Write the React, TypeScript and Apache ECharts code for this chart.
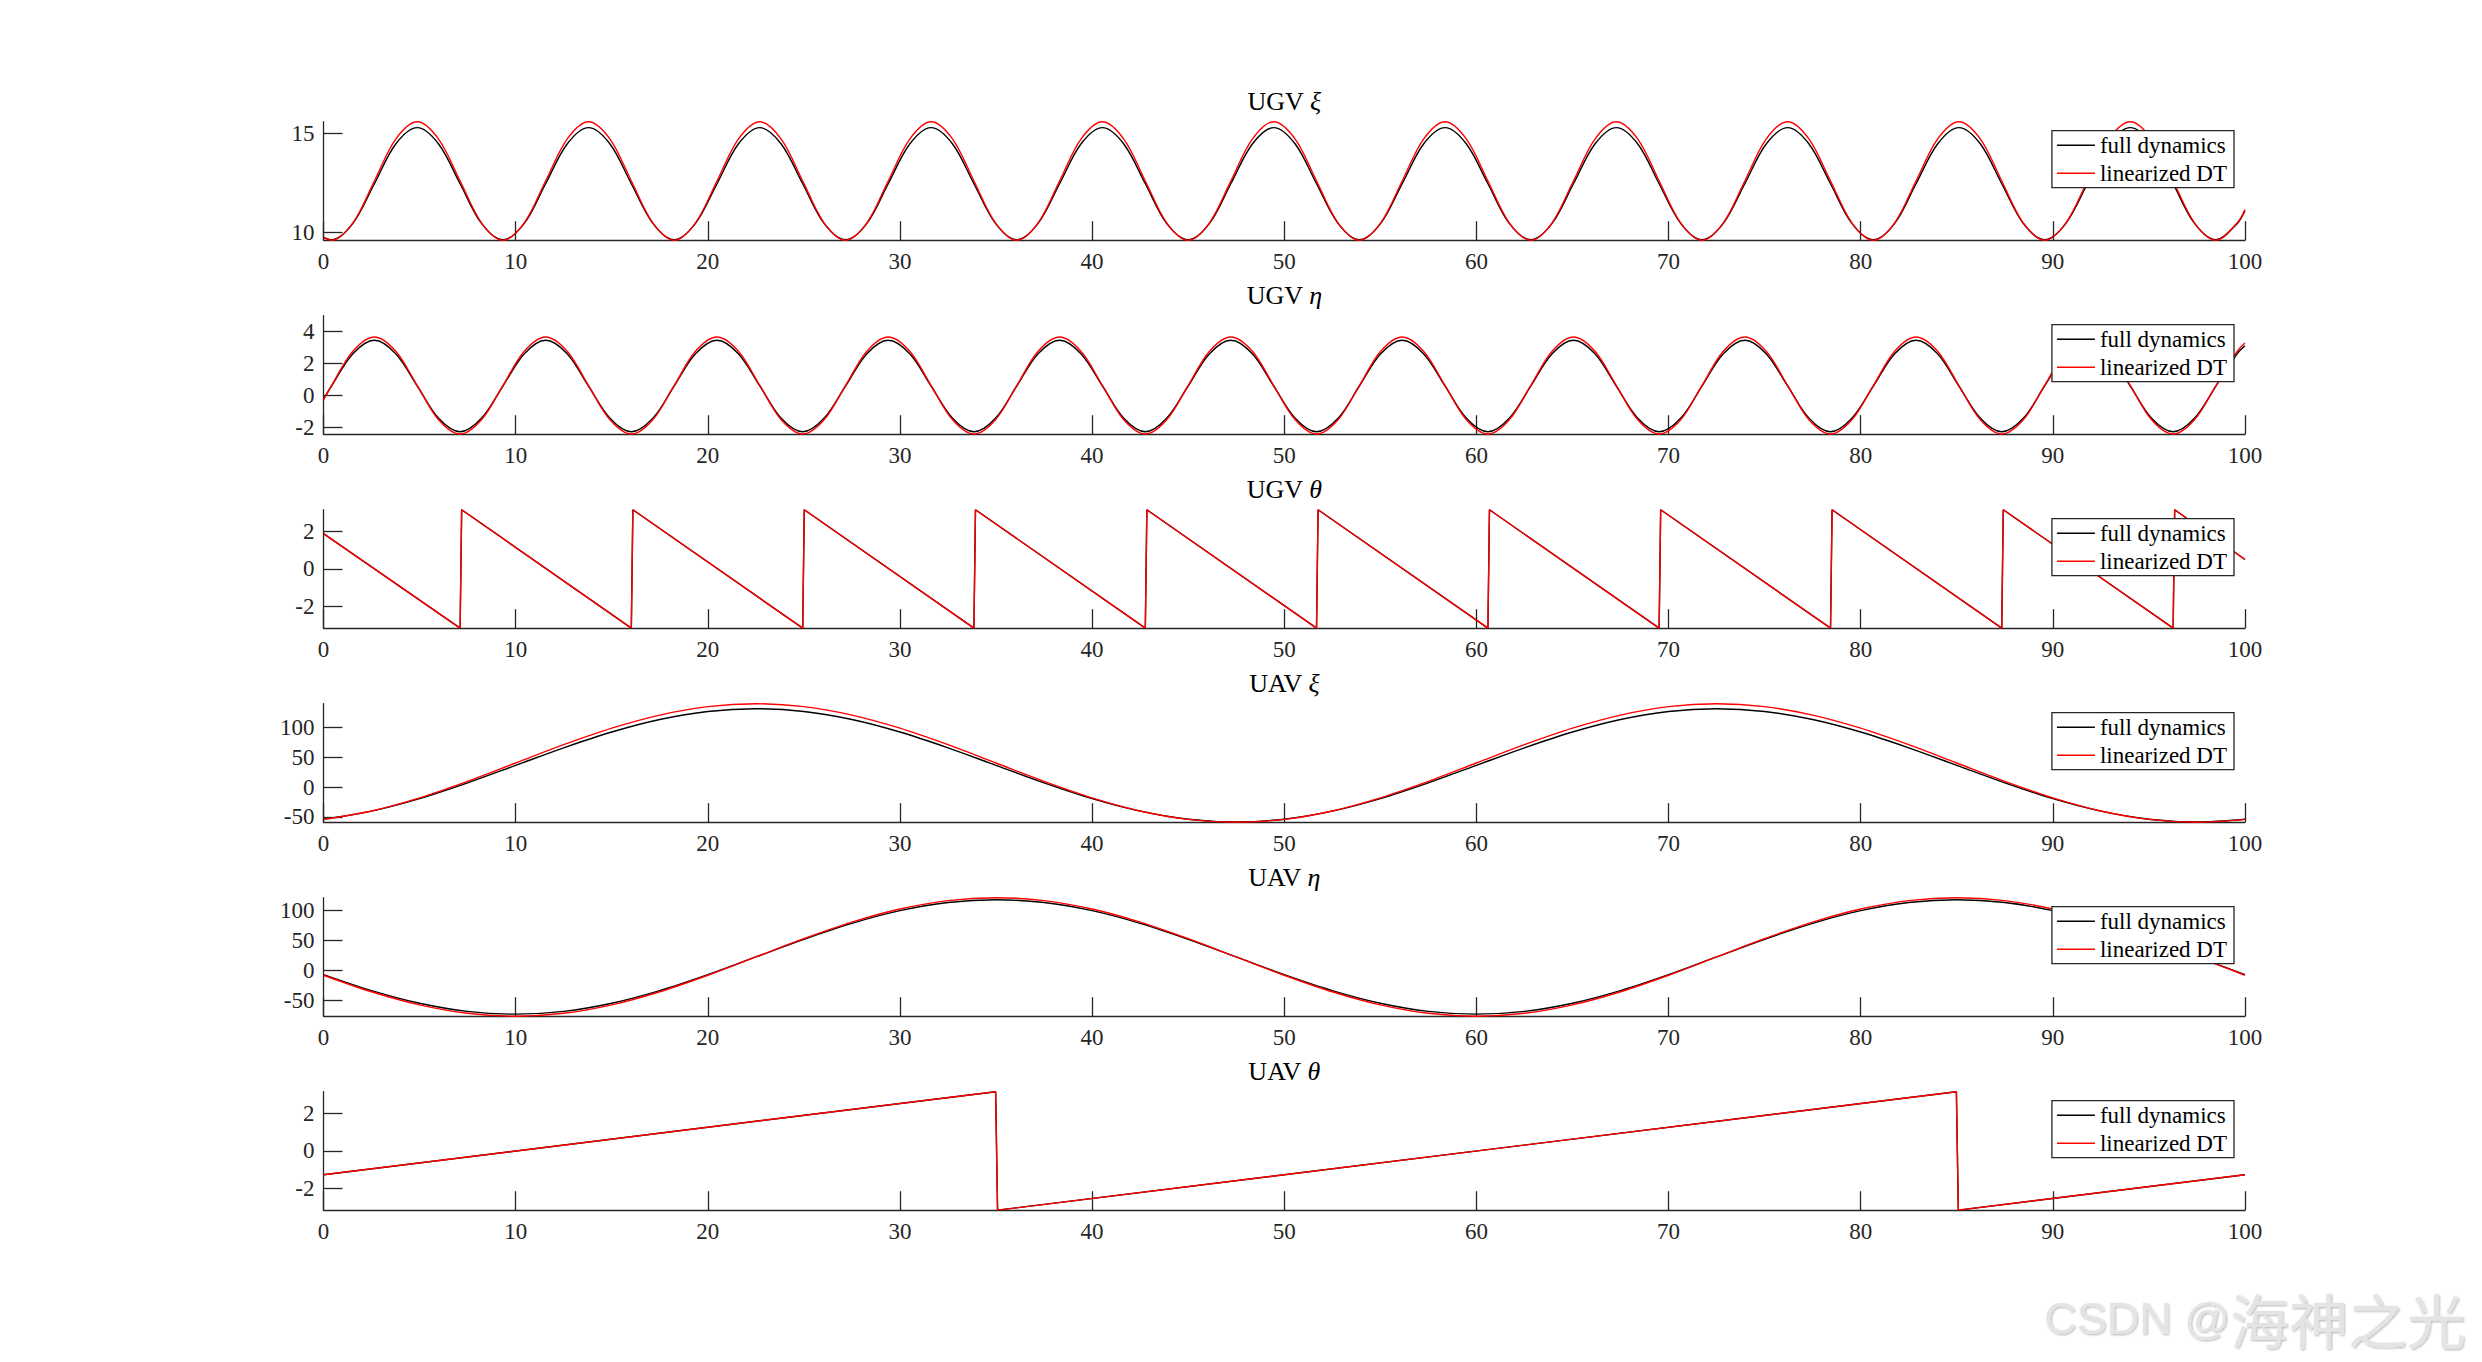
import React, { useEffect, useRef } from 'react';
import * as echarts from 'echarts';

// ---------------- data ----------------
const ugvT = [
  0, 0.42, 1.53, 2.65, 3.76, 4.88, 5.99, 7.11, 8.22,
  9.34, 10.45, 11.56, 12.68, 13.79, 14.91, 16.02, 17.14,
  18.25, 19.36, 20.48, 21.59, 22.71, 23.82, 24.94, 26.05,
  27.17, 28.28, 29.39, 30.51, 31.62, 32.74, 33.85, 34.97,
  36.08, 37.19, 38.31, 39.42, 40.54, 41.65, 42.77, 43.88,
  45.0, 46.11, 47.22, 48.34, 49.45, 50.57, 51.68, 52.8,
  53.91, 55.02, 56.14, 57.25, 58.37, 59.48, 60.6, 61.71,
  62.83, 63.94, 65.05, 66.17, 67.28, 68.4, 69.51, 70.63,
  71.74, 72.85, 73.97, 75.08, 76.2, 77.31, 78.43, 79.54,
  80.66, 81.77, 82.88, 84.0, 85.11, 86.23, 87.34, 88.46,
  89.57, 90.68, 91.8, 92.91, 94.03, 95.14, 96.26, 97.37,
  98.49, 99.6, 100,
];

const ugvXiFull = [
  9.74,
  9.62, 10.45, 12.46, 14.47, 15.3, 14.47, 12.46, 10.45,
  9.62, 10.45, 12.46, 14.47, 15.3, 14.47, 12.46, 10.45,
  9.62, 10.45, 12.46, 14.47, 15.3, 14.47, 12.46, 10.45,
  9.62, 10.45, 12.46, 14.47, 15.3, 14.47, 12.46, 10.45,
  9.62, 10.45, 12.46, 14.47, 15.3, 14.47, 12.46, 10.45,
  9.62, 10.45, 12.46, 14.47, 15.3, 14.47, 12.46, 10.45,
  9.62, 10.45, 12.46, 14.47, 15.3, 14.47, 12.46, 10.45,
  9.62, 10.45, 12.46, 14.47, 15.3, 14.47, 12.46, 10.45,
  9.62, 10.45, 12.46, 14.47, 15.3, 14.47, 12.46, 10.45,
  9.62, 10.45, 12.46, 14.47, 15.3, 14.47, 12.46, 10.45,
  9.62, 10.45, 12.46, 14.47, 15.3, 14.47, 12.46, 10.45,
  9.62, 10.45, 11.09,
];

const ugvXiLin = [
  9.73,
  9.6, 10.48, 12.6, 14.72, 15.6, 14.72, 12.6, 10.48,
  9.6, 10.48, 12.6, 14.72, 15.6, 14.72, 12.6, 10.48,
  9.6, 10.48, 12.6, 14.72, 15.6, 14.72, 12.6, 10.48,
  9.6, 10.48, 12.6, 14.72, 15.6, 14.72, 12.6, 10.48,
  9.6, 10.48, 12.6, 14.72, 15.6, 14.72, 12.6, 10.48,
  9.6, 10.48, 12.6, 14.72, 15.6, 14.72, 12.6, 10.48,
  9.6, 10.48, 12.6, 14.72, 15.6, 14.72, 12.6, 10.48,
  9.6, 10.48, 12.6, 14.72, 15.6, 14.72, 12.6, 10.48,
  9.6, 10.48, 12.6, 14.72, 15.6, 14.72, 12.6, 10.48,
  9.6, 10.48, 12.6, 14.72, 15.6, 14.72, 12.6, 10.48,
  9.6, 10.48, 12.6, 14.72, 15.6, 14.72, 12.6, 10.48,
  9.6, 10.48, 11.15,
];

const ugvEtaFull = [
  -0.24,
  0.59, 2.61, 3.45, 2.61, 0.59, -1.43, -2.27, -1.43,
  0.59, 2.61, 3.45, 2.61, 0.59, -1.43, -2.27, -1.43,
  0.59, 2.61, 3.45, 2.61, 0.59, -1.43, -2.27, -1.43,
  0.59, 2.61, 3.45, 2.61, 0.59, -1.43, -2.27, -1.43,
  0.59, 2.61, 3.45, 2.61, 0.59, -1.43, -2.27, -1.43,
  0.59, 2.61, 3.45, 2.61, 0.59, -1.43, -2.27, -1.43,
  0.59, 2.61, 3.45, 2.61, 0.59, -1.43, -2.27, -1.43,
  0.59, 2.61, 3.45, 2.61, 0.59, -1.43, -2.27, -1.43,
  0.59, 2.61, 3.45, 2.61, 0.59, -1.43, -2.27, -1.43,
  0.59, 2.61, 3.45, 2.61, 0.59, -1.43, -2.27, -1.43,
  0.59, 2.61, 3.45, 2.61, 0.59, -1.43, -2.27, -1.43,
  0.59, 2.61, 3.1,
];

const ugvEtaLin = [
  -0.26,
  0.62, 2.76, 3.65, 2.76, 0.62, -1.52, -2.41, -1.52,
  0.62, 2.76, 3.65, 2.76, 0.62, -1.52, -2.41, -1.52,
  0.62, 2.76, 3.65, 2.76, 0.62, -1.52, -2.41, -1.52,
  0.62, 2.76, 3.65, 2.76, 0.62, -1.52, -2.41, -1.52,
  0.62, 2.76, 3.65, 2.76, 0.62, -1.52, -2.41, -1.52,
  0.62, 2.76, 3.65, 2.76, 0.62, -1.52, -2.41, -1.52,
  0.62, 2.76, 3.65, 2.76, 0.62, -1.52, -2.41, -1.52,
  0.62, 2.76, 3.65, 2.76, 0.62, -1.52, -2.41, -1.52,
  0.62, 2.76, 3.65, 2.76, 0.62, -1.52, -2.41, -1.52,
  0.62, 2.76, 3.65, 2.76, 0.62, -1.52, -2.41, -1.52,
  0.62, 2.76, 3.65, 2.76, 0.62, -1.52, -2.41, -1.52,
  0.62, 2.76, 3.27,
];

const ugvThetaT = [
  0, 7.11, 7.19, 16.02, 16.1, 24.94, 25.02, 33.85, 33.93, 42.77, 42.85,
  51.68, 51.76, 60.6, 60.68, 69.51, 69.59, 78.43, 78.51, 87.34, 87.42,
  96.26, 96.34, 100,
];
const ugvThetaFull = [
  1.87, -3.14, 3.14, -3.14, 3.14, -3.14, 3.14, -3.14, 3.14, -3.14, 3.14,
  -3.14, 3.14, -3.14, 3.14, -3.14, 3.14, -3.14, 3.14, -3.14, 3.14,
  -3.14, 3.14, 0.5,
];
const ugvThetaLin = [
  1.87, -3.14, 3.14, -3.14, 3.14, -3.14, 3.14, -3.14, 3.14, -3.14, 3.14,
  -3.14, 3.14, -3.14, 3.14, -3.14, 3.14, -3.14, 3.14, -3.14, 3.14,
  -3.14, 3.14, 0.5,
];

const uavT = [
  0, 2.5, 5, 7.5, 10, 12.5, 15, 17.5, 20, 22.5, 25, 27.5, 30, 32.5, 35, 37.5,
  40, 42.5, 45, 47.5, 50, 52.5, 55, 57.5, 60, 62.5, 65, 67.5, 70, 72.5, 75,
  77.5, 80, 82.5, 85, 87.5, 90, 92.5, 95, 97.5, 100,
];

const uavXiFull = [
  -53.85, -40.34, -19.3, 7.21, 36.6, 65.99, 92.5, 113.54, 127.05, 131.7,
  127.05, 113.54, 92.5, 65.99, 36.6, 7.21, -19.3, -40.34, -53.85, -58.5,
  -53.85, -40.34, -19.3, 7.21, 36.6, 65.99, 92.5, 113.54, 127.05, 131.7,
  127.05, 113.54, 92.5, 65.99, 36.6, 7.21, -19.3, -40.34, -53.85, -58.5,
  -53.85,
];
const uavXiLin = [
  -54.13, -40.0, -17.99, 9.75, 40.5, 71.25, 98.99, 121.0, 135.13, 140.0,
  135.13, 121.0, 98.99, 71.25, 40.5, 9.75, -17.99, -40.0, -54.13, -59.0,
  -54.13, -40.0, -17.99, 9.75, 40.5, 71.25, 98.99, 121.0, 135.13, 140.0,
  135.13, 121.0, 98.99, 71.25, 40.5, 9.75, -17.99, -40.0, -54.13, -59.0,
  -54.13,
];

const uavEtaFull = [
  -7.1, -33.81, -55.0, -68.62, -73.3, -68.62, -55.0, -33.81, -7.1, 22.5,
  52.1, 78.81, 100.0, 113.62, 118.3, 113.62, 100.0, 78.81, 52.1, 22.5,
  -7.1, -33.81, -55.0, -68.62, -73.3, -68.62, -55.0, -33.81, -7.1, 22.5,
  52.1, 78.81, 100.0, 113.62, 118.3, 113.62, 100.0, 78.81, 52.1, 22.5,
  -7.1,
];
const uavEtaLin = [
  -8.15, -35.81, -57.75, -71.85, -76.7, -71.85, -57.75, -35.81, -8.15, 22.5,
  53.15, 80.81, 102.75, 116.85, 121.7, 116.85, 102.75, 80.81, 53.15, 22.5,
  -8.15, -35.81, -57.75, -71.85, -76.7, -71.85, -57.75, -35.81, -8.15, 22.5,
  53.15, 80.81, 102.75, 116.85, 121.7, 116.85, 102.75, 80.81, 53.15, 22.5,
  -8.15,
];

const uavThetaT = [0, 34.98, 35.08, 84.98, 85.08, 100];
const uavThetaFull = [-1.26, 3.14, -3.14, 3.14, -3.14, -1.26];
const uavThetaLin = [-1.26, 3.14, -3.14, 3.14, -3.14, -1.26];

const xTicks = [0, 10, 20, 30, 40, 50, 60, 70, 80, 90, 100];
const seriesNames = ['full dynamics', 'linearized DT'];

const panelTitles = [
  ['UGV ', 'ξ'],
  ['UGV ', 'η'],
  ['UGV ', 'θ'],
  ['UAV ', 'ξ'],
  ['UAV ', 'η'],
  ['UAV ', 'θ'],
];
const yLimits = [
  [9.6, 15.6],
  [-2.42, 4.98],
  [-3.1416, 3.1416],
  [-58.9, 140.1],
  [-76.7, 121.7],
  [-3.1416, 3.1416],
];
const yTickValues = [
  [10, 15],
  [-2, 0, 2, 4],
  [-2, 0, 2],
  [-50, 0, 50, 100],
  [-50, 0, 50, 100],
  [-2, 0, 2],
];

// ---------------- layout / style ----------------
const W = 2482;
const H = 1362;
const GRID_LEFT = 323.5;
const GRID_RIGHT_EDGE = 2245;
const GRID_TOP0 = 121.7;
const GRID_STEP = 194;
const GRID_H = 118.5;
const SERIF = "'Liberation Serif', 'DejaVu Serif', serif";
const AXIS_COLOR = '#262626';

const zip = (xs: number[], ys: number[]) => xs.map((x, i) => [x, ys[i]]);

export default function App() {
  const ref = useRef<HTMLDivElement>(null);

  useEffect(() => {
    if (!ref.current) return;
    const chart = echarts.init(ref.current, null, { renderer: 'svg', width: W, height: H });

    const panelData = [
      { x: ugvT, full: ugvXiFull, lin: ugvXiLin, smooth: 0.33 },
      { x: ugvT, full: ugvEtaFull, lin: ugvEtaLin, smooth: 0.33 },
      { x: ugvThetaT, full: ugvThetaFull, lin: ugvThetaLin, smooth: false },
      { x: uavT, full: uavXiFull, lin: uavXiLin, smooth: 0.33 },
      { x: uavT, full: uavEtaFull, lin: uavEtaLin, smooth: 0.33 },
      { x: uavThetaT, full: uavThetaFull, lin: uavThetaLin, smooth: false },
    ];

    const grids: any[] = [];
    const xAxes: any[] = [];
    const yAxes: any[] = [];
    const series: any[] = [];
    const legends: any[] = [];
    const graphics: any[] = [];

    panelData.forEach((p, i) => {
      const top = GRID_TOP0 + GRID_STEP * i;
      grids.push({
        left: GRID_LEFT,
        width: GRID_RIGHT_EDGE - GRID_LEFT,
        top,
        height: GRID_H,
        containLabel: false,
        outerBoundsMode: 'none',
      });
      xAxes.push({
        type: 'value',
        gridIndex: i,
        min: 0,
        max: 100,
        interval: 10,
        position: 'bottom',
        axisLine: { show: true, onZero: false, lineStyle: { color: AXIS_COLOR, width: 1.3 } },
        axisTick: { show: true, inside: true, length: 19, lineStyle: { color: AXIS_COLOR, width: 1.3 }, customValues: xTicks },
        axisLabel: {
          show: true,
          margin: 10,
          color: AXIS_COLOR,
          fontFamily: SERIF,
          fontSize: 23,
          customValues: xTicks,
          showMinLabel: true,
          showMaxLabel: true,
        },
        splitLine: { show: false },
      });
      yAxes.push({
        type: 'value',
        gridIndex: i,
        min: yLimits[i][0],
        max: yLimits[i][1],
        position: 'left',
        axisLine: { show: true, onZero: false, lineStyle: { color: AXIS_COLOR, width: 1.3 } },
        axisTick: { show: true, inside: true, length: 19, lineStyle: { color: AXIS_COLOR, width: 1.3 }, customValues: yTickValues[i] },
        axisLabel: {
          show: true,
          margin: 9,
          color: AXIS_COLOR,
          fontFamily: SERIF,
          fontSize: 23,
          customValues: yTickValues[i],
        },
        splitLine: { show: false },
      });
      series.push({
        type: 'line',
        name: seriesNames[0],
        xAxisIndex: i,
        yAxisIndex: i,
        data: zip(p.x, p.full),
        symbol: 'none',
        showSymbol: false,
        smooth: p.smooth,
        color: '#000000',
        itemStyle: { color: '#000000' },
        lineStyle: { color: '#000000', width: 1.4 },
        z: 2,
        silent: true,
      });
      series.push({
        type: 'line',
        name: seriesNames[1],
        xAxisIndex: i,
        yAxisIndex: i,
        data: zip(p.x, p.lin),
        symbol: 'none',
        showSymbol: false,
        smooth: p.smooth,
        color: '#ff0000',
        itemStyle: { color: '#ff0000' },
        lineStyle: { color: '#ff0000', width: 1.4 },
        z: 3,
        silent: true,
      });
      legends.push({
        data: seriesNames,
        orient: 'vertical',
        right: W - 2234,
        top: top + 9,
        icon: 'rect',
        itemWidth: 38,
        itemHeight: 1.5,
        itemGap: 3,
        padding: [2, 7, 2, 5],
        backgroundColor: '#ffffff',
        borderColor: AXIS_COLOR,
        borderWidth: 1.3,
        borderRadius: 0,
        selectedMode: false,
        textStyle: { fontFamily: SERIF, fontSize: 23, color: '#000000', lineHeight: 25 },
        z: 10,
      });
      graphics.push({
        type: 'text',
        x: (GRID_LEFT + GRID_RIGHT_EDGE) / 2,
        y: top - 20.7,
        z: 20,
        style: {
          text: `{n|${panelTitles[i][0]}}{g|${panelTitles[i][1]}}`,
          rich: {
            n: { fontFamily: SERIF, fontSize: 26, fill: '#000000' },
            g: { fontFamily: SERIF, fontSize: 26, fontStyle: 'italic', fill: '#000000' },
          },
          align: 'center',
          verticalAlign: 'middle',
          textAlign: 'center',
          textVerticalAlign: 'middle',
        },
      });
    });

    // watermark
    const wmShadow = {
      textShadowColor: 'rgba(0,0,0,0.3)',
      textShadowBlur: 2,
      textShadowOffsetX: 1,
      textShadowOffsetY: 1,
    };
    graphics.push({
      type: 'text',
      x: 2466,
      y: 1318,
      z: 30,
      style: {
        text: '{a|CSDN @}{b|海神之光}',
        rich: {
          a: { fontFamily: "'Liberation Sans', Arial, sans-serif", fontSize: 45, fill: '#e4e4e4', ...wmShadow },
          b: { fontFamily: "'Noto Sans CJK SC', sans-serif", fontSize: 59, fill: '#e4e4e4', ...wmShadow },
        },
        align: 'right',
        verticalAlign: 'middle',
        textAlign: 'right',
        textVerticalAlign: 'middle',
      },
    });

    chart.setOption({
      animation: false,
      backgroundColor: '#ffffff',
      grid: grids,
      xAxis: xAxes,
      yAxis: yAxes,
      series,
      legend: legends,
      graphic: { elements: graphics },
    });

    return () => chart.dispose();
  }, []);

  return (
    <div
      ref={ref}
      style={{ position: 'fixed', left: 0, top: 0, width: W, height: H, background: '#ffffff' }}
    />
  );
}
